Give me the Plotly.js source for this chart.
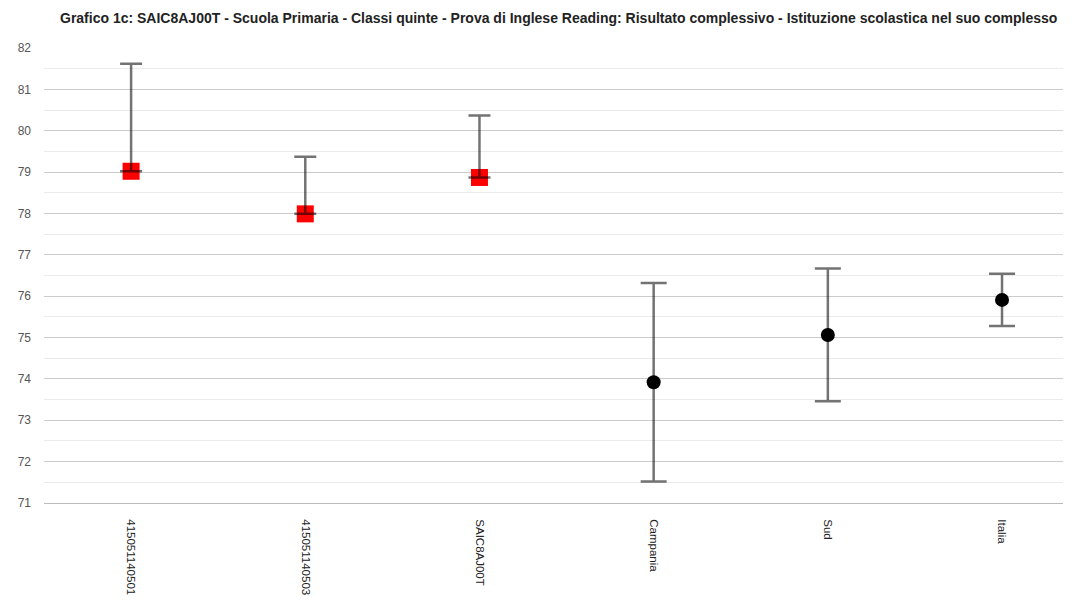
<!DOCTYPE html>
<html>
<head>
<meta charset="utf-8">
<script src="https://cdn.plot.ly/plotly-3.0.1.min.js"></script>
<style>html,body{margin:0;padding:0;background:#fff;}#chart{width:1077px;height:603px;}</style>
</head>
<body>
<div id="chart"></div>
<script>
var categories = ["415051140501", "415051140503", "SAIC8AJ00T", "Campania", "Sud", "Italia"];
var schoolCats = ["415051140501", "415051140503", "SAIC8AJ00T"];
var schoolValues = [79.02, 77.99, 78.87];
var schoolUpper = [81.62, 79.37, 80.37];
var schoolLower = [79.02, 77.99, 78.87];
var refCats = ["Campania", "Sud", "Italia"];
var refValues = [73.92, 75.06, 75.91];
var refUpper = [76.32, 76.67, 76.54];
var refLower = [71.52, 73.46, 75.28];
var title = "Grafico 1c: SAIC8AJ00T - Scuola Primaria - Classi quinte - Prova di Inglese Reading: Risultato complessivo - Istituzione scolastica nel suo complesso";

function diff(a, b) { return a.map(function (v, i) { return Math.max(0, v - b[i]); }); }
var errColor = 'rgba(0,0,0,0.55)';

var traces = [
  { x: schoolCats, y: schoolValues, type: 'scatter', mode: 'markers', hoverinfo: 'skip',
    marker: { symbol: 'square', size: 17, color: '#ff0000' }, showlegend: false },
  { x: refCats, y: refValues, type: 'scatter', mode: 'markers', hoverinfo: 'skip',
    marker: { symbol: 'circle', size: 14, color: '#000000' }, showlegend: false },
  { x: schoolCats, y: schoolValues, type: 'scatter', mode: 'markers', hoverinfo: 'skip',
    marker: { size: 1, opacity: 0 }, showlegend: false,
    error_y: { type: 'data', symmetric: false, array: diff(schoolUpper, schoolValues),
      arrayminus: diff(schoolValues, schoolLower), color: errColor, thickness: 2.5, width: 11 } },
  { x: refCats, y: refValues, type: 'scatter', mode: 'markers', hoverinfo: 'skip',
    marker: { size: 1, opacity: 0 }, showlegend: false,
    error_y: { type: 'data', symmetric: false, array: diff(refUpper, refValues),
      arrayminus: diff(refValues, refLower), color: errColor, thickness: 2.5, width: 13 } }
];

var layout = {
  width: 1077, height: 603,
  margin: { l: 44, r: 14, t: 48, b: 100 },
  paper_bgcolor: '#ffffff', plot_bgcolor: '#ffffff',
  font: { family: 'Arial, "Liberation Sans", sans-serif', size: 12, color: '#222' },
  title: { text: title, x: 60 / 1077, xref: 'container', xanchor: 'left',
    y: 1 - 18 / 603, yref: 'container', yanchor: 'middle',
    font: { family: 'Arial, "Liberation Sans", sans-serif', size: 14, color: '#222', weight: 'bold' } },
  xaxis: { type: 'category', categoryorder: 'array', categoryarray: categories,
    range: [-0.5, 5.35], showgrid: false, zeroline: false, showline: true, linecolor: '#bbbbbb', linewidth: 1,
    ticks: '', tickangle: 90, ticklabelstandoff: 13,
    tickfont: { size: 11.5, color: '#222' } },
  yaxis: { range: [71, 82], dtick: 1, tick0: 71, showgrid: true, gridcolor: '#cccccc', gridwidth: 1,
    zeroline: false, showline: false, ticks: '', ticklabelstandoff: 12,
    tickfont: { size: 12, color: '#555' },
    minor: { dtick: 0.5, showgrid: true, gridcolor: '#ebebeb', gridwidth: 1 } },
  showlegend: false
};

Plotly.newPlot('chart', traces, layout, { displayModeBar: false, staticPlot: true });
</script>
</body>
</html>
